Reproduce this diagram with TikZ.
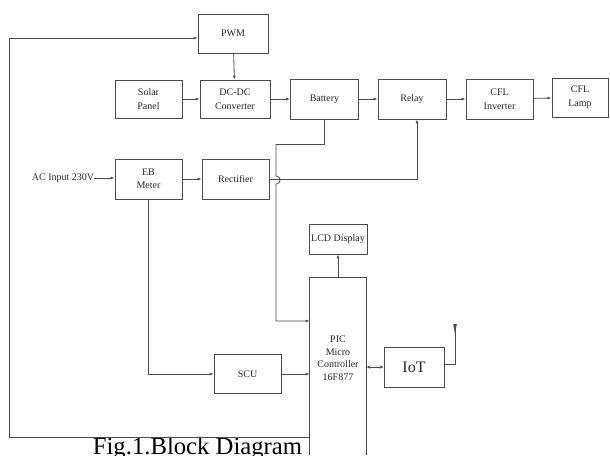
\documentclass[tikz,border=0pt]{standalone}
\usepackage{fontspec}
\setmainfont{Liberation Serif}
\usetikzlibrary{arrows.meta,positioning,calc}
\definecolor{linegray}{RGB}{75,75,75}
\tikzset{
  block/.style={rectangle,draw=linegray,line width=0.8pt,minimum width=67pt,minimum height=39pt,inner sep=1pt,align=center,font=\fontsize{10}{13.5}\selectfont,text=black!85},
  wire/.style={draw=linegray,line width=0.8pt}
}

\begin{document}
\begin{tikzpicture}[
  x=1pt,y=-1pt,>={Latex[length=4pt,width=3pt]},
  dblarrow/.style={wire,line width=0.6pt,{Stealth[open,length=4pt,width=3.5pt]}-{Stealth[open,length=4pt,width=3.5pt]}},
  plain/.style={inner sep=0pt,text=black!85}
]
  \useasboundingbox (0,0) rectangle (610,455);

  % --- Top row: PWM, solar path and load ---
  \node[block,minimum width=70pt] (pwm)     at (233,33.5) {PWM};
  \node[block,minimum height=38pt] (solar)  at (148.5,99) {Solar\\Panel};
  \node[block,minimum width=70pt,minimum height=38pt] (dcdc) at (235,99) {DC-DC\\Converter};
  \node[block,minimum width=68pt,minimum height=40pt] (bat)   at (324.5,99) {Battery};
  \node[block,minimum width=68pt,minimum height=40pt] (relay) at (412,99) {Relay};
  \node[block,minimum height=40pt] (cflinv) at (499.5,99) {CFL\\Inverter};
  \node[block,minimum width=56pt] (cfllamp) at (580,97.5) {CFL\\Lamp};

  % --- Mains path ---
  \node[plain,font=\fontsize{10}{12}\selectfont] (acin) at (63,178) {AC Input 230V};
  \node[block,minimum height=40pt] (ebm)  at (148.5,179) {EB\\Meter};
  \node[block,minimum height=40pt] (rect) at (235.5,179) {Rectifier};

  % --- Controller part ---
  \node[block,minimum width=58pt,minimum height=30pt] (lcd) at (338,239) {LCD Display};
  \node[block,draw=none,minimum width=56pt,minimum height=160pt,font=\fontsize{10}{12.5}\selectfont] (pic) at (338,358) {PIC\\Micro\\Controller\\16F877};
  \node[block] (scu) at (247.5,374) {SCU};
  \node[block,minimum width=60pt,minimum height=40pt,font=\fontsize{16}{18}\selectfont] (iot) at (414,367) {IoT};
  \coordinate (ant) at (455,324);

  \node[plain,anchor=base,font=\fontsize{24.7}{28}\selectfont,text=black] (cap) at (197.5,454) {Fig.1.Block Diagram};

  % --- PIC box, open at the bottom ---
  \draw[wire] ([yshift=-17pt]pic.south west) -- (pic.north west) -- (pic.north east) -- ([yshift=-17pt]pic.south east);

  % --- Top row arrows ---
  \draw[wire,->] (pwm) -- (dcdc);
  \draw[wire,->] (solar) -- (dcdc);
  \draw[wire,->] (dcdc) -- (bat);
  \draw[wire,->] (bat) -- (relay);
  \draw[wire,->] (relay) -- (cflinv);
  \draw[wire,->] (cflinv) -- (cfllamp);

  % --- Mains arrows ---
  \draw[wire,->] (acin.east) -- (acin.east -| ebm.west);
  \draw[wire,->] (ebm) -- (rect);
  \draw[wire,->] (rect.east) -| ([xshift=5pt]relay.south);

  % --- Battery to PIC, hopping over the rectifier line ---
  \draw[wire,->] (bat.south) -- ++(0,25) -| (276,176)
    .. controls (281.5,176) and (281.5,184) .. (276,184)
    |- ([yshift=37pt]pic.west);

  % --- Meter, SCU and PIC ---
  \draw[wire,->] (ebm.south) |- (scu.west);
  \draw[wire,->] (scu.east) -- (scu.east -| pic.west);
  \draw[wire,->] (pic.north) -- (lcd.south);
  \draw[dblarrow] (pic.east |- iot.west) -- (iot.west);

  % --- Antenna ---
  \draw[wire] ([yshift=3pt]iot.east) -| (ant);
  \fill[linegray] (ant) ++(-1.8,0) -- ++(3.6,0) -- ++(-1.8,10) -- cycle;

  % --- Feedback from PIC to PWM ---
  \draw[wire,->] ([yshift=-79pt]pic.west) -- ++(-300,0) |- ([yshift=-4.5pt]pwm.west);
\end{tikzpicture}
\end{document}
